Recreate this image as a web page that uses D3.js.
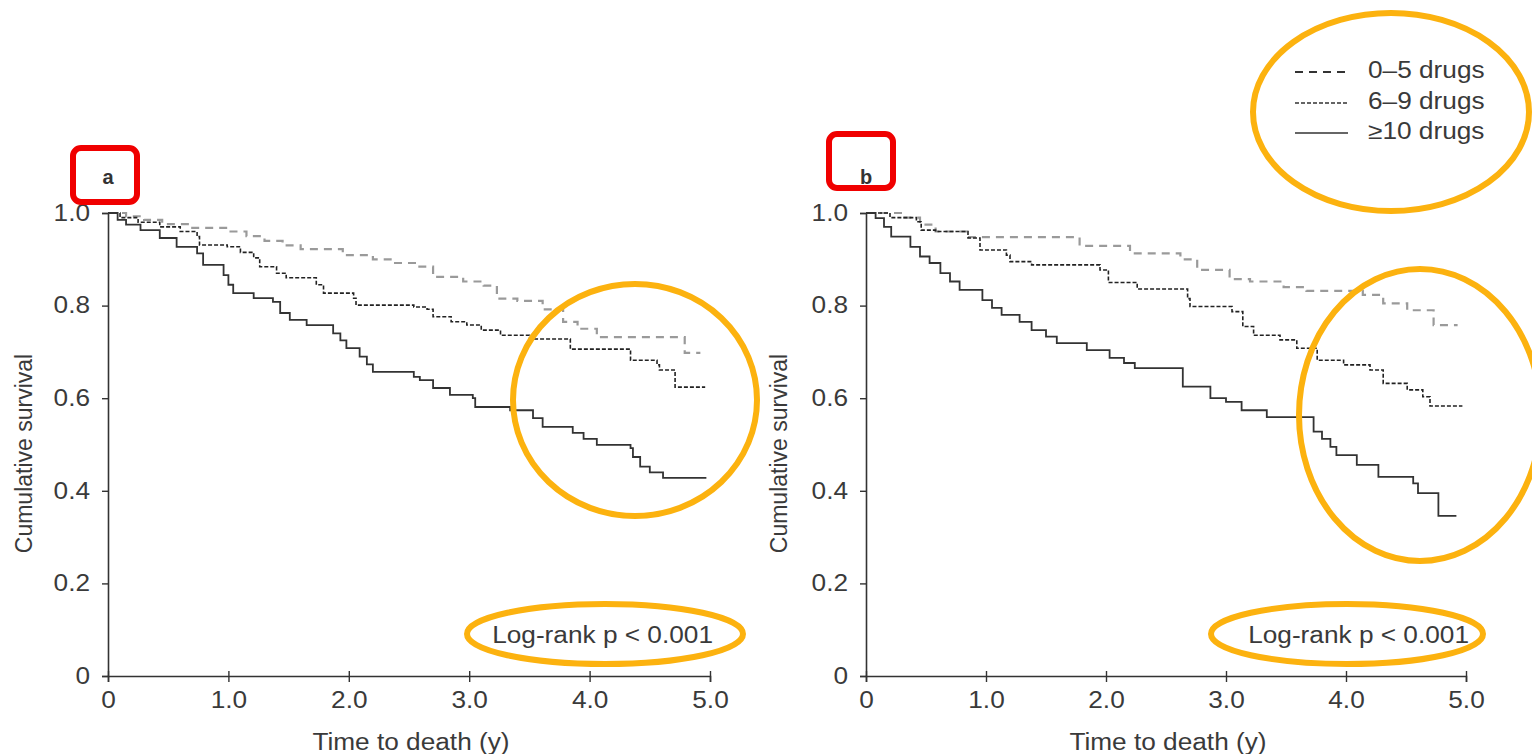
<!DOCTYPE html>
<html><head><meta charset="utf-8">
<script src="https://cdn.jsdelivr.net/npm/d3@7"></script>
<style>body{margin:0;background:#fff}svg{display:block}</style>
</head><body>
<svg id="c" width="1532" height="754"></svg>
<script>
// ---- data ----
const seriesNames = ["0\u20135 drugs", "6\u20139 drugs", "\u226510 drugs"];
const xTicks = [0, 1, 2, 3, 4, 5];
const xTickLabels = ["0", "1.0", "2.0", "3.0", "4.0", "5.0"];
const yTicks = [0, 0.2, 0.4, 0.6, 0.8, 1.0];
const yTickLabels = ["0", "0.2", "0.4", "0.6", "0.8", "1.0"];
const panelLabels = ["a", "b"];
const pText = "Log-rank p < 0.001";
// panel a: [time (y), cumulative survival]
const a_0to5 = [[0,1],[0.15,0.993],[0.3,0.985],[0.45,0.976],[0.7,0.968],[0.99,0.96],[1.15,0.95],[1.3,0.94],[1.45,0.93],[1.6,0.922],[1.95,0.909],[2.2,0.9],[2.37,0.892],[2.56,0.884],[2.7,0.862],[2.95,0.852],[3.12,0.843],[3.23,0.815],[3.4,0.81],[3.61,0.792],[3.78,0.765],[3.9,0.75],[4.06,0.732],[4.79,0.698],[4.92,0.698]];
const a_6to9 = [[0,1],[0.1,0.99],[0.25,0.98],[0.43,0.97],[0.6,0.96],[0.74,0.949],[0.76,0.931],[0.99,0.927],[1.1,0.915],[1.21,0.903],[1.26,0.884],[1.4,0.87],[1.48,0.86],[1.73,0.845],[1.79,0.827],[2.04,0.816],[2.06,0.801],[2.54,0.797],[2.65,0.792],[2.7,0.776],[2.85,0.765],[2.98,0.758],[3.1,0.747],[3.26,0.736],[3.5,0.728],[3.84,0.706],[4.34,0.682],[4.56,0.672],[4.58,0.661],[4.71,0.624],[4.96,0.624]];
const a_10plus = [[0,1],[0.08,0.985],[0.15,0.975],[0.27,0.963],[0.43,0.946],[0.57,0.927],[0.74,0.913],[0.79,0.888],[0.96,0.866],[1.0,0.845],[1.04,0.827],[1.21,0.816],[1.37,0.808],[1.43,0.784],[1.51,0.769],[1.65,0.758],[1.87,0.74],[1.93,0.725],[1.98,0.708],[2.09,0.69],[2.15,0.673],[2.2,0.657],[2.54,0.646],[2.59,0.639],[2.7,0.622],[2.84,0.607],[3.03,0.6],[3.05,0.581],[3.34,0.574],[3.53,0.557],[3.61,0.538],[3.86,0.525],[3.95,0.512],[4.06,0.499],[4.34,0.492],[4.36,0.473],[4.42,0.452],[4.5,0.44],[4.61,0.428],[4.97,0.428]];
// panel b
const b_0to5 = [[0,1],[0.3,0.99],[0.45,0.975],[0.58,0.96],[0.84,0.948],[1.78,0.929],[2.2,0.913],[2.62,0.9],[2.76,0.877],[3.03,0.857],[3.2,0.852],[3.48,0.84],[3.67,0.832],[4.14,0.823],[4.31,0.805],[4.51,0.79],[4.73,0.758],[4.93,0.758]];
const b_6to9 = [[0,1],[0.2,0.99],[0.42,0.981],[0.46,0.963],[0.58,0.96],[0.85,0.946],[0.95,0.92],[1.17,0.909],[1.2,0.895],[1.38,0.888],[1.95,0.877],[2.02,0.85],[2.26,0.836],[2.68,0.815],[2.7,0.798],[3.05,0.787],[3.14,0.755],[3.23,0.736],[3.45,0.726],[3.59,0.708],[3.76,0.682],[3.98,0.672],[4.2,0.661],[4.31,0.632],[4.51,0.618],[4.64,0.603],[4.7,0.583],[4.97,0.583]];
const b_10plus = [[0,1],[0.08,0.989],[0.15,0.97],[0.21,0.949],[0.37,0.927],[0.45,0.906],[0.53,0.892],[0.62,0.87],[0.7,0.852],[0.78,0.834],[0.97,0.812],[1.05,0.795],[1.13,0.78],[1.28,0.765],[1.38,0.747],[1.5,0.733],[1.59,0.719],[1.84,0.704],[2.03,0.687],[2.15,0.676],[2.24,0.665],[2.64,0.625],[2.87,0.6],[3.0,0.592],[3.13,0.574],[3.34,0.559],[3.73,0.528],[3.8,0.512],[3.87,0.495],[3.92,0.477],[4.09,0.456],[4.27,0.43],[4.56,0.416],[4.6,0.395],[4.77,0.346],[4.92,0.346]];

// ---- drawing ----
const svg = d3.select("#c");
const FONT = "'Liberation Sans', Arial, sans-serif";
const FS = "23px";
const STRETCH = 1.14;
function stretch(sel){
  sel.each(function(){
    const w = this.getComputedTextLength();
    d3.select(this).attr("textLength", w*STRETCH).attr("lengthAdjust","spacingAndGlyphs");
  });
}
const styles = [
  {stroke:"#9a9a9a", width:2.2, dash:"8,6"},
  {stroke:"#222", width:1.6, dash:"4,2"},
  {stroke:"#333", width:1.8, dash:null}
];
const y = d3.scaleLinear().domain([0,1]).range([676,213]);
const panels = [
  {x: d3.scaleLinear().domain([0,5]).range([108,710]), series:[a_0to5,a_6to9,a_10plus], label:panelLabels[0], ytitleX:26},
  {x: d3.scaleLinear().domain([0,5]).range([866,1466]), series:[b_0to5,b_6to9,b_10plus], label:panelLabels[1], ytitleX:781}
];

panels.forEach(p => {
  const g = svg.append("g");
  const ya = g.append("g").attr("transform",`translate(${p.x(0)},0)`)
    .call(d3.axisLeft(y).tickValues(yTicks).tickFormat((d,i)=>yTickLabels[i]).tickSizeOuter(0).tickSize(6).tickPadding(12));
  const xa = g.append("g").attr("transform",`translate(0,${y(0)})`)
    .call(d3.axisBottom(p.x).tickValues(xTicks).tickFormat((d,i)=>xTickLabels[i]).tickSizeOuter(0).tickSize(6).tickPadding(10));
  [ya,xa].forEach(a=>{
    a.select(".domain").attr("stroke","#333").attr("stroke-width",1.6);
    a.selectAll(".tick line").attr("stroke","#333").attr("stroke-width",1.4);
    a.selectAll(".tick text").attr("fill","#3a3a3a").style("font-family",FONT).style("font-size",FS);
    stretch(a.selectAll(".tick text"));
  });
  xa.selectAll(".tick line").attr("y1",-5).attr("y2",6);
  g.append("text").attr("transform",`translate(${p.ytitleX},${y(0.5)+9}) rotate(-90)`)
    .attr("text-anchor","middle").attr("dominant-baseline","middle")
    .style("font-family",FONT).style("font-size",FS).attr("fill","#3a3a3a").text("Cumulative survival");
  stretch(g.append("text").attr("x",(p.x(0)+p.x(5))/2+2).attr("y",750).attr("text-anchor","middle")
    .style("font-family",FONT).style("font-size",FS).attr("fill","#3a3a3a").text("Time to death (y)"));
  g.append("text").attr("x",p.x(0)).attr("y",184).attr("text-anchor","middle")
    .style("font-family",FONT).style("font-size","20px").style("font-weight","bold").attr("fill","#333").text(p.label);
  stretch(g.append("text").attr("x",p.x(5)+3).attr("y",643).attr("text-anchor","end")
    .style("font-family",FONT).style("font-size",FS).attr("fill","#3a3a3a").text(pText));
  const line = d3.line().x(d=>p.x(d[0])).y(d=>y(d[1])).curve(d3.curveStepAfter);
  p.series.forEach((s,i)=>{
    g.append("path").datum(s).attr("d",line).attr("fill","none")
      .attr("stroke",styles[i].stroke).attr("stroke-width",styles[i].width)
      .attr("stroke-dasharray",styles[i].dash);
  });
});

// legend
const lg = svg.append("g");
const legY = [72,103,133];
seriesNames.forEach((n,i)=>{
  lg.append("line").attr("x1",1295).attr("x2",1348).attr("y1",legY[i]).attr("y2",legY[i])
    .attr("stroke","#333").attr("stroke-width",styles[i].width-0.3).attr("stroke-dasharray",i===0?"8,6":styles[i].dash);
  stretch(lg.append("text").attr("x",1368).attr("y",legY[i]).attr("dominant-baseline","middle")
    .style("font-family",FONT).style("font-size",FS).attr("fill","#3a3a3a").text(n));
});

// highlight annotations
const ann = svg.append("g").attr("fill","none");
[[73,148],[829,134]].forEach(r=>{
  ann.append("rect").attr("x",r[0]).attr("y",r[1]).attr("width",64).attr("height",54).attr("rx",8)
    .attr("stroke","#f00000").attr("stroke-width",6);
});
[[635,400,122,116],[605,634,138,30],[1391,112,138,99],[1420,415,121,146],[1347,634,136,30]].forEach(e=>{
  ann.append("ellipse").attr("cx",e[0]).attr("cy",e[1]).attr("rx",e[2]).attr("ry",e[3])
    .attr("stroke","#fcb20f").attr("stroke-width",6);
});
</script>
</body></html>
